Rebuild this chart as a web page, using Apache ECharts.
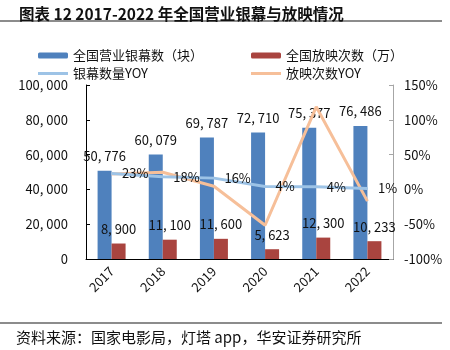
<!DOCTYPE html>
<html>
<head>
<meta charset="utf-8">
<script src="https://cdn.jsdelivr.net/npm/echarts@6/dist/echarts.min.js"></script>
<style>
  html, body { margin: 0; padding: 0; background: #fff; }
  #main { width: 450px; height: 350px; }
</style>
</head>
<body>
<div id="main"></div>
<script>
// 数据
var years = ['2017', '2018', '2019', '2020', '2021', '2022'];
var screens = [50776, 60079, 69787, 72710, 75377, 76486];      // 全国营业银幕数（块）
var shows = [8900, 11100, 11600, 5623, 12300, 10233];          // 全国放映次数（万）
var screensYoy = [23.0, 18.3, 16.2, 4.2, 3.7, 1.47];           // 银幕数量YOY (%)
var showsYoy = [22, 24.7, 4.5, -51.5, 118.7, -16.8];           // 放映次数YOY (%)

var FONT = 'Noto Sans CJK SC';

// 千分位，和原图一样逗号后带空格
function fmt(v) {
    return String(v).replace(/\B(?=(\d{3})+(?!\d))/g, ', ');
}

var myChart = echarts.init(document.getElementById('main'));

var option = {
    animation: false,
    textStyle: { fontFamily: FONT },
    title: {
        text: '图表 12 2017-2022 年全国营业银幕与放映情况',
        left: 14,
        top: 1,
        textStyle: { fontSize: 15.5, fontWeight: 'bold', color: '#111', fontFamily: FONT }
    },
    graphic: [
        { type: 'rect', shape: { x: 0, y: 20, width: 442, height: 2 }, style: { fill: '#8c8c8c' } },
        { type: 'rect', shape: { x: 0, y: 322, width: 442, height: 2 }, style: { fill: '#8c8c8c' } },
        {
            type: 'text', left: 16, top: 330,
            style: { text: '资料来源：国家电影局，灯塔 app，华安证券研究所', font: '15px "Noto Sans CJK SC"', fill: '#111' }
        }
    ],
    // 两行两列的图例
    legend: [
        { data: ['全国营业银幕数（块）'], left: 33, top: 44, itemWidth: 30, itemHeight: 6, itemGap: 5,
          textStyle: { fontSize: 13, color: '#111' } },
        { data: ['全国放映次数（万）'], left: 246, top: 44, itemWidth: 30, itemHeight: 6,
          textStyle: { fontSize: 13, color: '#111' } },
        { data: [{ name: '银幕数量YOY', icon: 'rect' }], left: 33, top: 62, itemWidth: 30, itemHeight: 3,
          textStyle: { fontSize: 13, color: '#111' } },
        { data: [{ name: '放映次数YOY', icon: 'rect' }], left: 246, top: 62, itemWidth: 30, itemHeight: 3,
          textStyle: { fontSize: 13, color: '#111' } }
    ],
    grid: {
        left: 86,
        right: 57,
        top: 85,
        bottom: 91
    },
    xAxis: {
        type: 'category',
        data: years,
        axisLine: { lineStyle: { color: '#000', width: 1 } },
        axisTick: { show: false },
        axisLabel: { rotate: 45, margin: 10, fontSize: 13, color: '#111' }
    },
    yAxis: [
        {
            type: 'value',
            min: 0,
            max: 100000,
            interval: 20000,
            axisLine: { show: true, lineStyle: { color: '#000' } },
            axisTick: { show: true, inside: true, length: 4, lineStyle: { color: '#000' } },
            splitLine: { show: false },
            axisLabel: { margin: 18, fontSize: 13, color: '#111', formatter: fmt }
        },
        {
            type: 'value',
            min: -100,
            max: 150,
            interval: 50,
            position: 'right',
            axisLine: { show: true, lineStyle: { color: '#a6a6a6' } },
            axisTick: { show: true, inside: true, length: 4, lineStyle: { color: '#a6a6a6' } },
            splitLine: { show: false },
            axisLabel: { margin: 11, fontSize: 13, color: '#111', formatter: '{value}%' }
        }
    ],
    series: [
        {
            name: '全国营业银幕数（块）',
            type: 'bar',
            data: screens,
            barWidth: 14,
            barGap: '0%',
            itemStyle: { color: '#4f81bd' },
            label: {
                show: true, position: 'top', distance: 8,
                fontSize: 13, color: '#111',
                formatter: function (p) { return fmt(p.value); }
            }
        },
        {
            name: '全国放映次数（万）',
            type: 'bar',
            data: shows,
            barWidth: 14,
            barGap: '0%',
            itemStyle: { color: '#a9443f' },
            label: {
                show: true, position: 'top', distance: 8,
                fontSize: 13, color: '#111',
                formatter: function (p) { return fmt(p.value); }
            }
        },
        {
            name: '银幕数量YOY',
            type: 'line',
            yAxisIndex: 1,
            data: screensYoy,
            symbol: 'circle',
            symbolSize: 1,
            itemStyle: { color: '#9dc3e6' },
            lineStyle: { color: '#9dc3e6', width: 3 },
            z: 4,
            label: {
                show: true, position: 'right', distance: 10,
                fontSize: 13, color: '#111',
                formatter: function (p) { return Math.round(p.value) + '%'; }
            }
        },
        {
            name: '放映次数YOY',
            type: 'line',
            yAxisIndex: 1,
            data: showsYoy,
            symbol: 'none',
            itemStyle: { color: '#f6bf99' },
            lineStyle: { color: '#f6bf99', width: 3 },
            z: 3
        }
    ]
};

myChart.setOption(option);
</script>
</body>
</html>
